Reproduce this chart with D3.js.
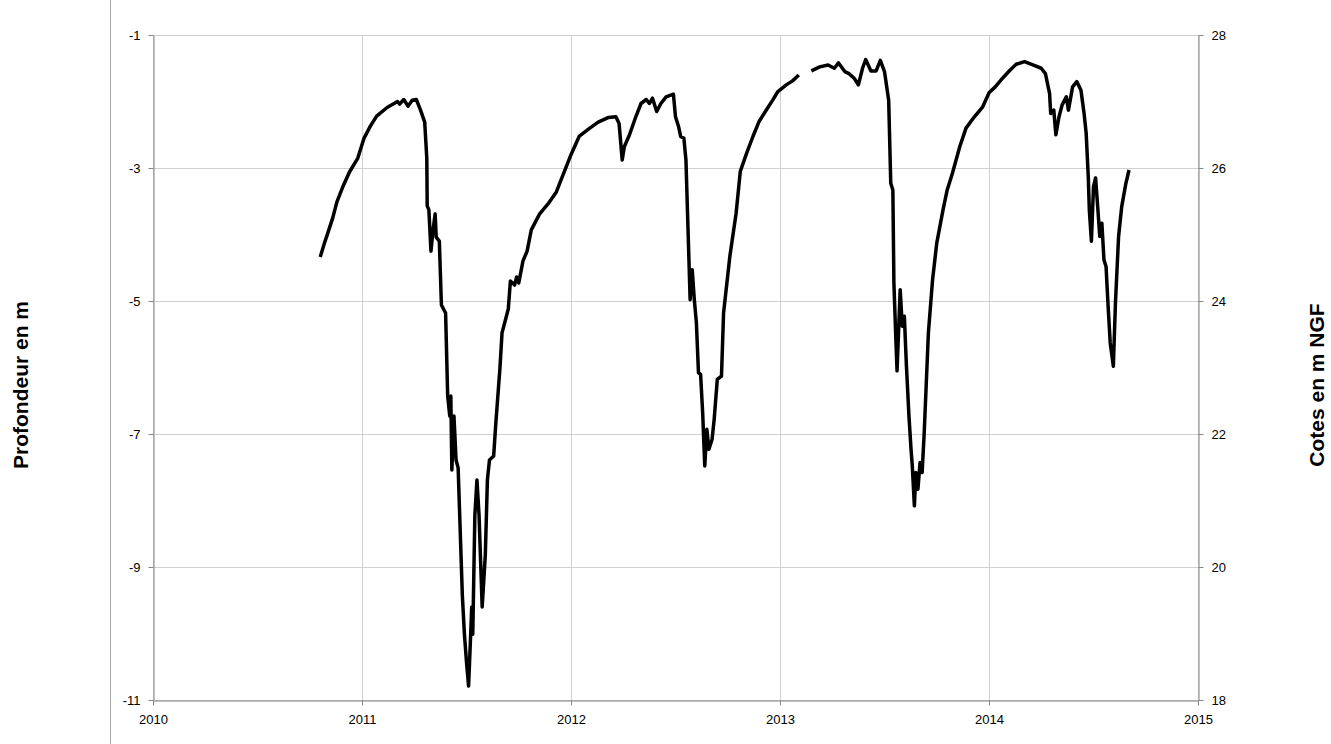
<!DOCTYPE html>
<html>
<head>
<meta charset="utf-8">
<script src="https://cdn.jsdelivr.net/npm/d3@7"></script>
<style>
  body { margin: 0; background: #fff; }
  text { font-family: "Liberation Sans", Arial, sans-serif; }
</style>
</head>
<body>
<svg id="chart" width="1331" height="744"></svg>
<script>
// year (decimal), depth in m; null marks the gap in measurements
var years = [2010.80,2010.82,2010.83,2010.86,2010.88,2010.91,2010.94,2010.98,2011.01,2011.04,2011.07,2011.12,2011.17,2011.18,2011.20,2011.22,2011.24,2011.26,2011.28,2011.30,2011.31,2011.312,2011.32,2011.33,2011.34,2011.35,2011.355,2011.37,2011.38,2011.40,2011.41,2011.42,2011.425,2011.43,2011.44,2011.45,2011.46,2011.48,2011.49,2011.50,2011.51,2011.52,2011.525,2011.53,2011.54,2011.55,2011.56,2011.575,2011.59,2011.60,2011.61,2011.63,2011.64,2011.66,2011.67,2011.70,2011.71,2011.73,2011.74,2011.75,2011.77,2011.79,2011.81,2011.85,2011.89,2011.93,2011.96,2012.00,2012.04,2012.09,2012.13,2012.18,2012.215,2012.23,2012.245,2012.255,2012.28,2012.31,2012.335,2012.36,2012.375,2012.39,2012.41,2012.43,2012.455,2012.49,2012.50,2012.515,2012.525,2012.54,2012.55,2012.56,2012.57,2012.58,2012.59,2012.60,2012.61,2012.62,2012.63,2012.64,2012.65,2012.66,2012.675,2012.685,2012.70,2012.72,2012.73,2012.76,2012.79,2012.81,2012.84,2012.87,2012.90,2012.93,2012.965,2012.99,2013.03,2013.06,2013.09,2013.12,2013.15,2013.19,2013.23,2013.26,2013.28,2013.31,2013.33,2013.355,2013.375,2013.395,2013.41,2013.435,2013.46,2013.48,2013.50,2013.52,2013.53,2013.54,2013.545,2013.555,2013.56,2013.575,2013.585,2013.595,2013.605,2013.617,2013.627,2013.633,2013.643,2013.65,2013.66,2013.67,2013.68,2013.69,2013.70,2013.71,2013.73,2013.75,2013.78,2013.80,2013.825,2013.86,2013.89,2013.93,2013.97,2014.00,2014.03,2014.065,2014.10,2014.13,2014.17,2014.21,2014.25,2014.27,2014.29,2014.295,2014.31,2014.32,2014.335,2014.35,2014.37,2014.38,2014.40,2014.42,2014.44,2014.455,2014.465,2014.475,2014.48,2014.49,2014.50,2014.51,2014.52,2014.53,2014.54,2014.55,2014.56,2014.57,2014.58,2014.595,2014.605,2014.62,2014.635,2014.655,2014.67];
var depths = [-4.34,-4.13,-4.04,-3.75,-3.51,-3.27,-3.06,-2.85,-2.55,-2.37,-2.22,-2.09,-2.00,-2.04,-1.97,-2.07,-1.98,-1.97,-2.13,-2.31,-2.85,-3.57,-3.63,-4.25,-3.93,-3.69,-4.04,-4.10,-5.06,-5.18,-6.43,-6.73,-6.43,-7.54,-6.73,-7.39,-7.51,-9.42,-10.01,-10.43,-10.79,-10.01,-9.60,-10.01,-8.22,-7.69,-8.22,-9.60,-8.82,-7.69,-7.39,-7.33,-6.85,-6.01,-5.48,-5.12,-4.70,-4.76,-4.64,-4.73,-4.40,-4.25,-3.93,-3.69,-3.54,-3.36,-3.12,-2.80,-2.52,-2.40,-2.31,-2.24,-2.23,-2.33,-2.88,-2.68,-2.50,-2.23,-2.03,-1.97,-2.03,-1.95,-2.15,-2.03,-1.93,-1.89,-2.23,-2.38,-2.53,-2.55,-2.88,-3.93,-4.98,-4.53,-4.98,-5.33,-6.08,-6.10,-6.68,-7.48,-6.93,-7.23,-7.08,-6.78,-6.18,-6.13,-5.18,-4.33,-3.68,-3.05,-2.78,-2.53,-2.30,-2.15,-1.98,-1.85,-1.75,-1.69,-1.60,null,-1.54,-1.48,-1.45,-1.50,-1.42,-1.55,-1.58,-1.65,-1.75,-1.50,-1.37,-1.54,-1.54,-1.38,-1.55,-1.98,-3.23,-3.33,-4.73,-5.63,-6.05,-4.83,-5.38,-5.23,-5.98,-6.73,-7.23,-7.48,-8.08,-7.58,-7.83,-7.43,-7.58,-6.98,-6.23,-5.48,-4.68,-4.13,-3.63,-3.33,-3.08,-2.68,-2.40,-2.23,-2.08,-1.87,-1.78,-1.65,-1.53,-1.44,-1.40,-1.45,-1.50,-1.58,-1.88,-2.18,-2.13,-2.50,-2.23,-2.05,-1.93,-2.13,-1.78,-1.70,-1.83,-2.18,-2.48,-3.13,-3.63,-4.10,-3.28,-3.15,-3.58,-4.03,-3.83,-4.38,-4.48,-5.08,-5.63,-5.98,-5.03,-4.03,-3.58,-3.23,-3.03];
var yearTicks = [2010, 2011, 2012, 2013, 2014, 2015];
var depthTicks = [-1, -3, -5, -7, -9, -11];
var coteTicks = [28, 26, 24, 22, 20, 18];

var svg = d3.select("#chart");
var plotLeft = 153, plotRight = 1198, plotTop = 35, plotBottom = 700;

var x = d3.scaleLinear().domain([2010, 2015]).range([plotLeft, plotRight]);
var y = d3.scaleLinear().domain([-11, -1]).range([plotBottom, plotTop]);
var y2 = d3.scaleLinear().domain([18, 28]).range([plotBottom, plotTop]);

// outer frame edge
svg.append("line").attr("x1", 110.5).attr("x2", 110.5).attr("y1", 0).attr("y2", 744)
    .attr("stroke", "#a6a6a6").attr("stroke-width", 1);

// gridlines
svg.append("g").selectAll("line").data(yearTicks).enter().append("line")
    .attr("x1", function(d) { return Math.round(x(d)) + 0.5; })
    .attr("x2", function(d) { return Math.round(x(d)) + 0.5; })
    .attr("y1", plotTop).attr("y2", plotBottom)
    .attr("stroke", "#d0d0d0");
svg.append("g").selectAll("line").data(depthTicks).enter().append("line")
    .attr("x1", plotLeft).attr("x2", plotRight)
    .attr("y1", function(d) { return Math.round(y(d)) + 0.5; })
    .attr("y2", function(d) { return Math.round(y(d)) + 0.5; })
    .attr("stroke", "#d0d0d0");

function styleAxis(g) {
    g.selectAll("path,line").attr("stroke", "#868686");
    g.selectAll("text").attr("font-size", 13).attr("fill", "#000")
        .attr("font-family", "'Liberation Sans', Arial, sans-serif");
}
var plain = function(d) { return String(d); };

svg.append("g").attr("transform", "translate(" + (plotLeft + 0.5) + ",0)")
    .call(d3.axisLeft(y).tickValues(depthTicks).tickFormat(plain).tickSize(5).tickSizeOuter(0).tickPadding(8))
    .call(styleAxis);
svg.append("g").attr("transform", "translate(" + (plotRight + 0.5) + ",0)")
    .call(d3.axisRight(y2).tickValues(coteTicks).tickFormat(plain).tickSize(5).tickSizeOuter(0).tickPadding(8))
    .call(styleAxis);
svg.append("g").attr("transform", "translate(0," + (plotBottom + 0.5) + ")")
    .call(d3.axisBottom(x).tickValues(yearTicks).tickFormat(plain).tickSize(5).tickSizeOuter(0).tickPadding(9))
    .call(styleAxis);

var data = years.map(function(d, i) { return { year: d, depth: depths[i] }; });
var line = d3.line()
    .defined(function(d) { return d.depth !== null; })
    .x(function(d) { return x(d.year); })
    .y(function(d) { return y(d.depth); });

svg.append("path").datum(data)
    .attr("d", line)
    .attr("fill", "none")
    .attr("stroke", "#000")
    .attr("stroke-width", 3.5)
    .attr("stroke-linejoin", "round");

svg.append("text")
    .attr("transform", "translate(28,385) rotate(-90)")
    .attr("text-anchor", "middle")
    .attr("font-size", 21).attr("font-weight", "bold")
    .text("Profondeur en m");
svg.append("text")
    .attr("transform", "translate(1324,385) rotate(-90)")
    .attr("text-anchor", "middle")
    .attr("font-size", 21).attr("font-weight", "bold")
    .text("Cotes en m NGF");
</script>
</body>
</html>
